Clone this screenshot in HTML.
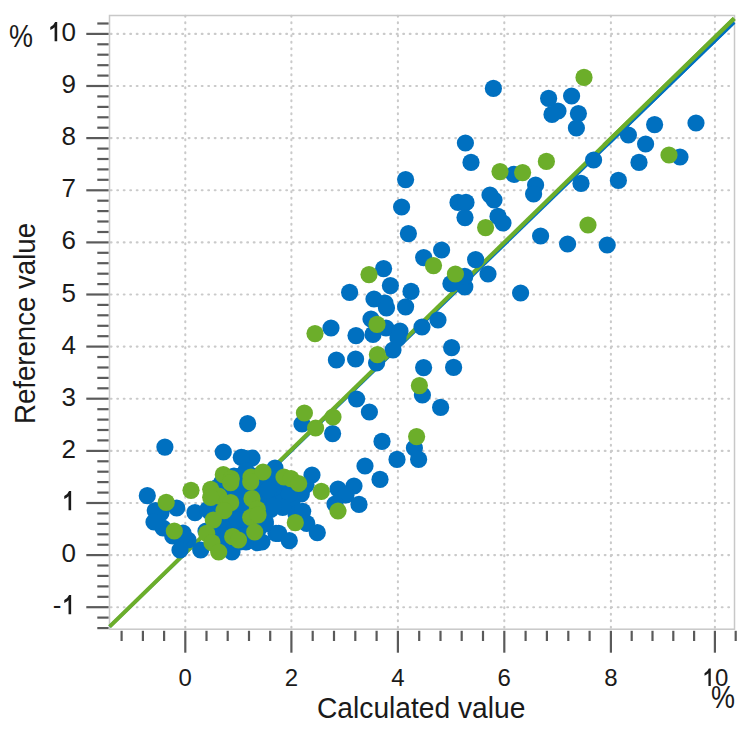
<!DOCTYPE html>
<html><head><meta charset="utf-8"><style>
html,body{margin:0;padding:0;background:#fff;}
body{width:750px;height:750px;position:relative;overflow:hidden;font-family:"Liberation Sans",sans-serif;color:#1a1a1a;}
svg{position:absolute;left:0;top:0;}
.yl{position:absolute;left:0;width:76px;text-align:right;font-size:26px;line-height:30px;}
.xl{position:absolute;top:664px;width:80px;text-align:center;font-size:24px;line-height:28px;}
i{font-style:normal;color:transparent;}
.t{position:absolute;font-size:29px;line-height:34px;white-space:nowrap;}
</style></head><body>
<svg width="750" height="750" viewBox="0 0 750 750"><g stroke="#cacaca" stroke-width="2.1" stroke-linecap="round" stroke-dasharray="0.8 5.7"><line x1="185.3" y1="15.85" x2="185.3" y2="628.2"/><line x1="291.4" y1="15.85" x2="291.4" y2="628.2"/><line x1="397.9" y1="15.85" x2="397.9" y2="628.2"/><line x1="504.3" y1="15.85" x2="504.3" y2="628.2"/><line x1="610.9" y1="15.85" x2="610.9" y2="628.2"/><line x1="714.9" y1="15.85" x2="714.9" y2="628.2"/><line x1="110.75" y1="607.2" x2="733.5" y2="607.2"/><line x1="110.75" y1="555.1" x2="733.5" y2="555.1"/><line x1="110.75" y1="503.0" x2="733.5" y2="503.0"/><line x1="110.75" y1="450.9" x2="733.5" y2="450.9"/><line x1="110.75" y1="398.7" x2="733.5" y2="398.7"/><line x1="110.75" y1="346.6" x2="733.5" y2="346.6"/><line x1="110.75" y1="294.5" x2="733.5" y2="294.5"/><line x1="110.75" y1="242.4" x2="733.5" y2="242.4"/><line x1="110.75" y1="190.3" x2="733.5" y2="190.3"/><line x1="110.75" y1="138.1" x2="733.5" y2="138.1"/><line x1="110.75" y1="86.0" x2="733.5" y2="86.0"/><line x1="110.75" y1="33.9" x2="733.5" y2="33.9"/></g><rect x="109.5" y="15.5" width="625.0" height="613.7" fill="none" stroke="#c8c8c8" stroke-width="1.5"/><g stroke="#5a5a5a" stroke-width="2.2"><line x1="121.6" y1="630.8" x2="121.6" y2="641"/><line x1="142.9" y1="630.8" x2="142.9" y2="641"/><line x1="164.1" y1="630.8" x2="164.1" y2="641"/><line x1="185.3" y1="630.8" x2="185.3" y2="652.7"/><line x1="206.5" y1="630.8" x2="206.5" y2="641"/><line x1="227.7" y1="630.8" x2="227.7" y2="641"/><line x1="249.0" y1="630.8" x2="249.0" y2="641"/><line x1="270.2" y1="630.8" x2="270.2" y2="641"/><line x1="291.4" y1="630.8" x2="291.4" y2="652.7"/><line x1="312.7" y1="630.8" x2="312.7" y2="641"/><line x1="334.0" y1="630.8" x2="334.0" y2="641"/><line x1="355.3" y1="630.8" x2="355.3" y2="641"/><line x1="376.6" y1="630.8" x2="376.6" y2="641"/><line x1="397.9" y1="630.8" x2="397.9" y2="652.7"/><line x1="419.2" y1="630.8" x2="419.2" y2="641"/><line x1="440.5" y1="630.8" x2="440.5" y2="641"/><line x1="461.7" y1="630.8" x2="461.7" y2="641"/><line x1="483.0" y1="630.8" x2="483.0" y2="641"/><line x1="504.3" y1="630.8" x2="504.3" y2="652.7"/><line x1="525.6" y1="630.8" x2="525.6" y2="641"/><line x1="546.9" y1="630.8" x2="546.9" y2="641"/><line x1="568.3" y1="630.8" x2="568.3" y2="641"/><line x1="589.6" y1="630.8" x2="589.6" y2="641"/><line x1="610.9" y1="630.8" x2="610.9" y2="652.7"/><line x1="631.7" y1="630.8" x2="631.7" y2="641"/><line x1="652.5" y1="630.8" x2="652.5" y2="641"/><line x1="673.3" y1="630.8" x2="673.3" y2="641"/><line x1="694.1" y1="630.8" x2="694.1" y2="641"/><line x1="714.9" y1="630.8" x2="714.9" y2="652.7"/><line x1="735.7" y1="630.8" x2="735.7" y2="641"/><line x1="97.3" y1="628.1" x2="108.6" y2="628.1"/><line x1="97.3" y1="617.6" x2="108.6" y2="617.6"/><line x1="86.3" y1="607.2" x2="108.6" y2="607.2"/><line x1="97.3" y1="596.8" x2="108.6" y2="596.8"/><line x1="97.3" y1="586.4" x2="108.6" y2="586.4"/><line x1="97.3" y1="575.9" x2="108.6" y2="575.9"/><line x1="97.3" y1="565.5" x2="108.6" y2="565.5"/><line x1="86.3" y1="555.1" x2="108.6" y2="555.1"/><line x1="97.3" y1="544.7" x2="108.6" y2="544.7"/><line x1="97.3" y1="534.3" x2="108.6" y2="534.3"/><line x1="97.3" y1="523.8" x2="108.6" y2="523.8"/><line x1="97.3" y1="513.4" x2="108.6" y2="513.4"/><line x1="86.3" y1="503.0" x2="108.6" y2="503.0"/><line x1="97.3" y1="492.6" x2="108.6" y2="492.6"/><line x1="97.3" y1="482.1" x2="108.6" y2="482.1"/><line x1="97.3" y1="471.7" x2="108.6" y2="471.7"/><line x1="97.3" y1="461.3" x2="108.6" y2="461.3"/><line x1="86.3" y1="450.9" x2="108.6" y2="450.9"/><line x1="97.3" y1="440.4" x2="108.6" y2="440.4"/><line x1="97.3" y1="430.0" x2="108.6" y2="430.0"/><line x1="97.3" y1="419.6" x2="108.6" y2="419.6"/><line x1="97.3" y1="409.2" x2="108.6" y2="409.2"/><line x1="86.3" y1="398.7" x2="108.6" y2="398.7"/><line x1="97.3" y1="388.3" x2="108.6" y2="388.3"/><line x1="97.3" y1="377.9" x2="108.6" y2="377.9"/><line x1="97.3" y1="367.5" x2="108.6" y2="367.5"/><line x1="97.3" y1="357.0" x2="108.6" y2="357.0"/><line x1="86.3" y1="346.6" x2="108.6" y2="346.6"/><line x1="97.3" y1="336.2" x2="108.6" y2="336.2"/><line x1="97.3" y1="325.8" x2="108.6" y2="325.8"/><line x1="97.3" y1="315.3" x2="108.6" y2="315.3"/><line x1="97.3" y1="304.9" x2="108.6" y2="304.9"/><line x1="86.3" y1="294.5" x2="108.6" y2="294.5"/><line x1="97.3" y1="284.1" x2="108.6" y2="284.1"/><line x1="97.3" y1="273.7" x2="108.6" y2="273.7"/><line x1="97.3" y1="263.2" x2="108.6" y2="263.2"/><line x1="97.3" y1="252.8" x2="108.6" y2="252.8"/><line x1="86.3" y1="242.4" x2="108.6" y2="242.4"/><line x1="97.3" y1="232.0" x2="108.6" y2="232.0"/><line x1="97.3" y1="221.5" x2="108.6" y2="221.5"/><line x1="97.3" y1="211.1" x2="108.6" y2="211.1"/><line x1="97.3" y1="200.7" x2="108.6" y2="200.7"/><line x1="86.3" y1="190.3" x2="108.6" y2="190.3"/><line x1="97.3" y1="179.8" x2="108.6" y2="179.8"/><line x1="97.3" y1="169.4" x2="108.6" y2="169.4"/><line x1="97.3" y1="159.0" x2="108.6" y2="159.0"/><line x1="97.3" y1="148.6" x2="108.6" y2="148.6"/><line x1="86.3" y1="138.1" x2="108.6" y2="138.1"/><line x1="97.3" y1="127.7" x2="108.6" y2="127.7"/><line x1="97.3" y1="117.3" x2="108.6" y2="117.3"/><line x1="97.3" y1="106.9" x2="108.6" y2="106.9"/><line x1="97.3" y1="96.4" x2="108.6" y2="96.4"/><line x1="86.3" y1="86.0" x2="108.6" y2="86.0"/><line x1="97.3" y1="75.6" x2="108.6" y2="75.6"/><line x1="97.3" y1="65.2" x2="108.6" y2="65.2"/><line x1="97.3" y1="54.7" x2="108.6" y2="54.7"/><line x1="97.3" y1="44.3" x2="108.6" y2="44.3"/><line x1="86.3" y1="33.9" x2="108.6" y2="33.9"/><line x1="97.3" y1="23.5" x2="108.6" y2="23.5"/></g><line x1="109.6" y1="626.62" x2="734.2" y2="22.28" stroke="#0070c0" stroke-width="3.2"/><line x1="109.6" y1="626.62" x2="734.2" y2="18.58" stroke="#6cae2a" stroke-width="4.1"/><circle cx="234" cy="476" r="8.6" fill="#0070c0"/><circle cx="240" cy="476" r="8.6" fill="#0070c0"/><circle cx="246" cy="476" r="8.6" fill="#0070c0"/><circle cx="252" cy="476" r="8.6" fill="#0070c0"/><circle cx="258" cy="476" r="8.6" fill="#0070c0"/><circle cx="264" cy="476" r="8.6" fill="#0070c0"/><circle cx="270" cy="476" r="8.6" fill="#0070c0"/><circle cx="276" cy="476" r="8.6" fill="#0070c0"/><circle cx="222" cy="482" r="8.6" fill="#0070c0"/><circle cx="228" cy="482" r="8.6" fill="#0070c0"/><circle cx="234" cy="482" r="8.6" fill="#0070c0"/><circle cx="240" cy="482" r="8.6" fill="#0070c0"/><circle cx="246" cy="482" r="8.6" fill="#0070c0"/><circle cx="252" cy="482" r="8.6" fill="#0070c0"/><circle cx="258" cy="482" r="8.6" fill="#0070c0"/><circle cx="264" cy="482" r="8.6" fill="#0070c0"/><circle cx="270" cy="482" r="8.6" fill="#0070c0"/><circle cx="276" cy="482" r="8.6" fill="#0070c0"/><circle cx="282" cy="482" r="8.6" fill="#0070c0"/><circle cx="288" cy="482" r="8.6" fill="#0070c0"/><circle cx="216" cy="488" r="8.6" fill="#0070c0"/><circle cx="222" cy="488" r="8.6" fill="#0070c0"/><circle cx="228" cy="488" r="8.6" fill="#0070c0"/><circle cx="234" cy="488" r="8.6" fill="#0070c0"/><circle cx="240" cy="488" r="8.6" fill="#0070c0"/><circle cx="246" cy="488" r="8.6" fill="#0070c0"/><circle cx="252" cy="488" r="8.6" fill="#0070c0"/><circle cx="258" cy="488" r="8.6" fill="#0070c0"/><circle cx="264" cy="488" r="8.6" fill="#0070c0"/><circle cx="270" cy="488" r="8.6" fill="#0070c0"/><circle cx="276" cy="488" r="8.6" fill="#0070c0"/><circle cx="282" cy="488" r="8.6" fill="#0070c0"/><circle cx="288" cy="488" r="8.6" fill="#0070c0"/><circle cx="216" cy="494" r="8.6" fill="#0070c0"/><circle cx="222" cy="494" r="8.6" fill="#0070c0"/><circle cx="228" cy="494" r="8.6" fill="#0070c0"/><circle cx="234" cy="494" r="8.6" fill="#0070c0"/><circle cx="240" cy="494" r="8.6" fill="#0070c0"/><circle cx="246" cy="494" r="8.6" fill="#0070c0"/><circle cx="252" cy="494" r="8.6" fill="#0070c0"/><circle cx="258" cy="494" r="8.6" fill="#0070c0"/><circle cx="264" cy="494" r="8.6" fill="#0070c0"/><circle cx="270" cy="494" r="8.6" fill="#0070c0"/><circle cx="276" cy="494" r="8.6" fill="#0070c0"/><circle cx="216" cy="500" r="8.6" fill="#0070c0"/><circle cx="222" cy="500" r="8.6" fill="#0070c0"/><circle cx="228" cy="500" r="8.6" fill="#0070c0"/><circle cx="234" cy="500" r="8.6" fill="#0070c0"/><circle cx="240" cy="500" r="8.6" fill="#0070c0"/><circle cx="246" cy="500" r="8.6" fill="#0070c0"/><circle cx="252" cy="500" r="8.6" fill="#0070c0"/><circle cx="258" cy="500" r="8.6" fill="#0070c0"/><circle cx="264" cy="500" r="8.6" fill="#0070c0"/><circle cx="270" cy="500" r="8.6" fill="#0070c0"/><circle cx="276" cy="500" r="8.6" fill="#0070c0"/><circle cx="216" cy="506" r="8.6" fill="#0070c0"/><circle cx="222" cy="506" r="8.6" fill="#0070c0"/><circle cx="228" cy="506" r="8.6" fill="#0070c0"/><circle cx="234" cy="506" r="8.6" fill="#0070c0"/><circle cx="240" cy="506" r="8.6" fill="#0070c0"/><circle cx="246" cy="506" r="8.6" fill="#0070c0"/><circle cx="252" cy="506" r="8.6" fill="#0070c0"/><circle cx="258" cy="506" r="8.6" fill="#0070c0"/><circle cx="264" cy="506" r="8.6" fill="#0070c0"/><circle cx="270" cy="506" r="8.6" fill="#0070c0"/><circle cx="210" cy="512" r="8.6" fill="#0070c0"/><circle cx="216" cy="512" r="8.6" fill="#0070c0"/><circle cx="222" cy="512" r="8.6" fill="#0070c0"/><circle cx="228" cy="512" r="8.6" fill="#0070c0"/><circle cx="234" cy="512" r="8.6" fill="#0070c0"/><circle cx="240" cy="512" r="8.6" fill="#0070c0"/><circle cx="246" cy="512" r="8.6" fill="#0070c0"/><circle cx="252" cy="512" r="8.6" fill="#0070c0"/><circle cx="258" cy="512" r="8.6" fill="#0070c0"/><circle cx="264" cy="512" r="8.6" fill="#0070c0"/><circle cx="216" cy="518" r="8.6" fill="#0070c0"/><circle cx="222" cy="518" r="8.6" fill="#0070c0"/><circle cx="228" cy="518" r="8.6" fill="#0070c0"/><circle cx="234" cy="518" r="8.6" fill="#0070c0"/><circle cx="240" cy="518" r="8.6" fill="#0070c0"/><circle cx="246" cy="518" r="8.6" fill="#0070c0"/><circle cx="252" cy="518" r="8.6" fill="#0070c0"/><circle cx="258" cy="518" r="8.6" fill="#0070c0"/><circle cx="264" cy="518" r="8.6" fill="#0070c0"/><circle cx="216" cy="524" r="8.6" fill="#0070c0"/><circle cx="222" cy="524" r="8.6" fill="#0070c0"/><circle cx="228" cy="524" r="8.6" fill="#0070c0"/><circle cx="234" cy="524" r="8.6" fill="#0070c0"/><circle cx="240" cy="524" r="8.6" fill="#0070c0"/><circle cx="246" cy="524" r="8.6" fill="#0070c0"/><circle cx="252" cy="524" r="8.6" fill="#0070c0"/><circle cx="258" cy="524" r="8.6" fill="#0070c0"/><circle cx="216" cy="530" r="8.6" fill="#0070c0"/><circle cx="222" cy="530" r="8.6" fill="#0070c0"/><circle cx="228" cy="530" r="8.6" fill="#0070c0"/><circle cx="234" cy="530" r="8.6" fill="#0070c0"/><circle cx="240" cy="530" r="8.6" fill="#0070c0"/><circle cx="246" cy="530" r="8.6" fill="#0070c0"/><circle cx="252" cy="530" r="8.6" fill="#0070c0"/><circle cx="258" cy="530" r="8.6" fill="#0070c0"/><circle cx="216" cy="536" r="8.6" fill="#0070c0"/><circle cx="222" cy="536" r="8.6" fill="#0070c0"/><circle cx="228" cy="536" r="8.6" fill="#0070c0"/><circle cx="234" cy="536" r="8.6" fill="#0070c0"/><circle cx="240" cy="536" r="8.6" fill="#0070c0"/><circle cx="246" cy="536" r="8.6" fill="#0070c0"/><circle cx="252" cy="536" r="8.6" fill="#0070c0"/><circle cx="222" cy="542" r="8.6" fill="#0070c0"/><circle cx="228" cy="542" r="8.6" fill="#0070c0"/><circle cx="234" cy="542" r="8.6" fill="#0070c0"/><circle cx="240" cy="542" r="8.6" fill="#0070c0"/><circle cx="246" cy="542" r="8.6" fill="#0070c0"/><circle cx="161" cy="513" r="8.6" fill="#0070c0"/><circle cx="163" cy="528" r="8.6" fill="#0070c0"/><circle cx="183" cy="533" r="8.6" fill="#0070c0"/><circle cx="182" cy="541" r="8.6" fill="#0070c0"/><circle cx="188" cy="540" r="8.6" fill="#0070c0"/><circle cx="571.6" cy="96" r="8.6" fill="#0070c0"/><circle cx="578.4" cy="113.6" r="8.6" fill="#0070c0"/><circle cx="576.4" cy="128" r="8.6" fill="#0070c0"/><circle cx="654.6" cy="124.6" r="8.6" fill="#0070c0"/><circle cx="696" cy="123" r="8.6" fill="#0070c0"/><circle cx="628.4" cy="135" r="8.6" fill="#0070c0"/><circle cx="645.6" cy="144" r="8.6" fill="#0070c0"/><circle cx="680" cy="157" r="8.6" fill="#0070c0"/><circle cx="639" cy="162.4" r="8.6" fill="#0070c0"/><circle cx="593.6" cy="160" r="8.6" fill="#0070c0"/><circle cx="581" cy="183.4" r="8.6" fill="#0070c0"/><circle cx="618.4" cy="180.4" r="8.6" fill="#0070c0"/><circle cx="493.4" cy="88.4" r="8.6" fill="#0070c0"/><circle cx="548.6" cy="98.4" r="8.6" fill="#0070c0"/><circle cx="558" cy="111" r="8.6" fill="#0070c0"/><circle cx="552" cy="114.4" r="8.6" fill="#0070c0"/><circle cx="465.4" cy="143" r="8.6" fill="#0070c0"/><circle cx="471" cy="162.4" r="8.6" fill="#0070c0"/><circle cx="514" cy="174.4" r="8.6" fill="#0070c0"/><circle cx="535.6" cy="185" r="8.6" fill="#0070c0"/><circle cx="533.6" cy="194" r="8.6" fill="#0070c0"/><circle cx="490" cy="195" r="8.6" fill="#0070c0"/><circle cx="494" cy="200" r="8.6" fill="#0070c0"/><circle cx="458" cy="202.4" r="8.6" fill="#0070c0"/><circle cx="466" cy="202.4" r="8.6" fill="#0070c0"/><circle cx="465" cy="217.6" r="8.6" fill="#0070c0"/><circle cx="498" cy="216.4" r="8.6" fill="#0070c0"/><circle cx="503" cy="223" r="8.6" fill="#0070c0"/><circle cx="540.6" cy="236" r="8.6" fill="#0070c0"/><circle cx="567.6" cy="244" r="8.6" fill="#0070c0"/><circle cx="441.6" cy="250" r="8.6" fill="#0070c0"/><circle cx="423.7" cy="257.6" r="8.6" fill="#0070c0"/><circle cx="475.6" cy="259.6" r="8.6" fill="#0070c0"/><circle cx="488" cy="274" r="8.6" fill="#0070c0"/><circle cx="450.9" cy="283.7" r="8.6" fill="#0070c0"/><circle cx="464.8" cy="286.9" r="8.6" fill="#0070c0"/><circle cx="464.8" cy="276.3" r="8.6" fill="#0070c0"/><circle cx="520.6" cy="293" r="8.6" fill="#0070c0"/><circle cx="438" cy="320" r="8.6" fill="#0070c0"/><circle cx="607.2" cy="245" r="8.6" fill="#0070c0"/><circle cx="405.6" cy="179.6" r="8.6" fill="#0070c0"/><circle cx="401.6" cy="207" r="8.6" fill="#0070c0"/><circle cx="408.4" cy="233.6" r="8.6" fill="#0070c0"/><circle cx="383.6" cy="268.6" r="8.6" fill="#0070c0"/><circle cx="390.4" cy="285.6" r="8.6" fill="#0070c0"/><circle cx="349.6" cy="292.4" r="8.6" fill="#0070c0"/><circle cx="411" cy="291.4" r="8.6" fill="#0070c0"/><circle cx="374" cy="299" r="8.6" fill="#0070c0"/><circle cx="385" cy="303" r="8.6" fill="#0070c0"/><circle cx="386.5" cy="308" r="8.6" fill="#0070c0"/><circle cx="405.6" cy="306.8" r="8.6" fill="#0070c0"/><circle cx="331" cy="328" r="8.6" fill="#0070c0"/><circle cx="371" cy="319" r="8.6" fill="#0070c0"/><circle cx="356" cy="335.6" r="8.6" fill="#0070c0"/><circle cx="373" cy="334.4" r="8.6" fill="#0070c0"/><circle cx="386" cy="328" r="8.6" fill="#0070c0"/><circle cx="400" cy="331" r="8.6" fill="#0070c0"/><circle cx="398" cy="338" r="8.6" fill="#0070c0"/><circle cx="393" cy="350" r="8.6" fill="#0070c0"/><circle cx="422" cy="327" r="8.6" fill="#0070c0"/><circle cx="336.4" cy="360" r="8.6" fill="#0070c0"/><circle cx="355.6" cy="359" r="8.6" fill="#0070c0"/><circle cx="376.6" cy="363" r="8.6" fill="#0070c0"/><circle cx="423.6" cy="367.6" r="8.6" fill="#0070c0"/><circle cx="422.4" cy="395" r="8.6" fill="#0070c0"/><circle cx="356.6" cy="399" r="8.6" fill="#0070c0"/><circle cx="369.4" cy="412" r="8.6" fill="#0070c0"/><circle cx="302" cy="424" r="8.6" fill="#0070c0"/><circle cx="451.6" cy="347.6" r="8.6" fill="#0070c0"/><circle cx="453.6" cy="367.4" r="8.6" fill="#0070c0"/><circle cx="440.6" cy="407.4" r="8.6" fill="#0070c0"/><circle cx="414.4" cy="448" r="8.6" fill="#0070c0"/><circle cx="418.6" cy="459.4" r="8.6" fill="#0070c0"/><circle cx="397" cy="459.4" r="8.6" fill="#0070c0"/><circle cx="382" cy="441.4" r="8.6" fill="#0070c0"/><circle cx="380" cy="479.4" r="8.6" fill="#0070c0"/><circle cx="332.6" cy="433.6" r="8.6" fill="#0070c0"/><circle cx="247.6" cy="423.6" r="8.6" fill="#0070c0"/><circle cx="365" cy="466" r="8.6" fill="#0070c0"/><circle cx="244" cy="458" r="8.6" fill="#0070c0"/><circle cx="252" cy="458" r="8.6" fill="#0070c0"/><circle cx="275" cy="468" r="8.6" fill="#0070c0"/><circle cx="312" cy="475" r="8.6" fill="#0070c0"/><circle cx="338" cy="489" r="8.6" fill="#0070c0"/><circle cx="354" cy="486" r="8.6" fill="#0070c0"/><circle cx="346" cy="495" r="8.6" fill="#0070c0"/><circle cx="335" cy="504" r="8.6" fill="#0070c0"/><circle cx="359" cy="504.4" r="8.6" fill="#0070c0"/><circle cx="164.9" cy="447.1" r="8.6" fill="#0070c0"/><circle cx="147.3" cy="495.7" r="8.6" fill="#0070c0"/><circle cx="155.3" cy="510.7" r="8.6" fill="#0070c0"/><circle cx="176.7" cy="508" r="8.6" fill="#0070c0"/><circle cx="195" cy="512.7" r="8.6" fill="#0070c0"/><circle cx="207.7" cy="509.5" r="8.6" fill="#0070c0"/><circle cx="206" cy="531" r="8.6" fill="#0070c0"/><circle cx="154" cy="522" r="8.6" fill="#0070c0"/><circle cx="172.7" cy="536" r="8.6" fill="#0070c0"/><circle cx="182.7" cy="536" r="8.6" fill="#0070c0"/><circle cx="180" cy="550" r="8.6" fill="#0070c0"/><circle cx="200.7" cy="550" r="8.6" fill="#0070c0"/><circle cx="223.3" cy="452" r="8.6" fill="#0070c0"/><circle cx="241.3" cy="457.3" r="8.6" fill="#0070c0"/><circle cx="246" cy="470.7" r="8.6" fill="#0070c0"/><circle cx="232" cy="552" r="8.6" fill="#0070c0"/><circle cx="257.3" cy="542.7" r="8.6" fill="#0070c0"/><circle cx="276" cy="533.3" r="8.6" fill="#0070c0"/><circle cx="265.3" cy="524" r="8.6" fill="#0070c0"/><circle cx="237.3" cy="520" r="8.6" fill="#0070c0"/><circle cx="242.7" cy="536" r="8.6" fill="#0070c0"/><circle cx="270.7" cy="509.3" r="8.6" fill="#0070c0"/><circle cx="273.3" cy="488" r="8.6" fill="#0070c0"/><circle cx="233.3" cy="490.7" r="8.6" fill="#0070c0"/><circle cx="301.3" cy="494" r="8.6" fill="#0070c0"/><circle cx="306" cy="485" r="8.6" fill="#0070c0"/><circle cx="292" cy="505" r="8.6" fill="#0070c0"/><circle cx="296" cy="514" r="8.6" fill="#0070c0"/><circle cx="289.3" cy="494" r="8.6" fill="#0070c0"/><circle cx="268" cy="490" r="8.6" fill="#0070c0"/><circle cx="282.7" cy="507.3" r="8.6" fill="#0070c0"/><circle cx="302.7" cy="511.3" r="8.6" fill="#0070c0"/><circle cx="273.3" cy="506" r="8.6" fill="#0070c0"/><circle cx="306.7" cy="523.3" r="8.6" fill="#0070c0"/><circle cx="317.3" cy="532.7" r="8.6" fill="#0070c0"/><circle cx="278.7" cy="533.3" r="8.6" fill="#0070c0"/><circle cx="289.3" cy="540.7" r="8.6" fill="#0070c0"/><circle cx="265.3" cy="522" r="8.6" fill="#0070c0"/><circle cx="262" cy="542" r="8.6" fill="#0070c0"/><circle cx="584" cy="77.4" r="8.6" fill="#6cae2a"/><circle cx="669" cy="155" r="8.6" fill="#6cae2a"/><circle cx="500" cy="171.6" r="8.6" fill="#6cae2a"/><circle cx="522.6" cy="172.6" r="8.6" fill="#6cae2a"/><circle cx="546.4" cy="161.4" r="8.6" fill="#6cae2a"/><circle cx="485.6" cy="227.6" r="8.6" fill="#6cae2a"/><circle cx="433.5" cy="265.6" r="8.6" fill="#6cae2a"/><circle cx="455.4" cy="274" r="8.6" fill="#6cae2a"/><circle cx="588" cy="225" r="8.6" fill="#6cae2a"/><circle cx="369" cy="274.6" r="8.6" fill="#6cae2a"/><circle cx="315" cy="333.6" r="8.6" fill="#6cae2a"/><circle cx="377" cy="324.4" r="8.6" fill="#6cae2a"/><circle cx="377.4" cy="354.6" r="8.6" fill="#6cae2a"/><circle cx="419.4" cy="385.6" r="8.6" fill="#6cae2a"/><circle cx="304.4" cy="413" r="8.6" fill="#6cae2a"/><circle cx="333" cy="417" r="8.6" fill="#6cae2a"/><circle cx="315.6" cy="428" r="8.6" fill="#6cae2a"/><circle cx="416.6" cy="436.6" r="8.6" fill="#6cae2a"/><circle cx="251" cy="477" r="8.6" fill="#6cae2a"/><circle cx="263" cy="472" r="8.6" fill="#6cae2a"/><circle cx="284" cy="477" r="8.6" fill="#6cae2a"/><circle cx="291" cy="478.7" r="8.6" fill="#6cae2a"/><circle cx="298.7" cy="483.5" r="8.6" fill="#6cae2a"/><circle cx="321.3" cy="491.4" r="8.6" fill="#6cae2a"/><circle cx="338" cy="511" r="8.6" fill="#6cae2a"/><circle cx="295.3" cy="522.7" r="8.6" fill="#6cae2a"/><circle cx="166.2" cy="502.4" r="8.6" fill="#6cae2a"/><circle cx="191" cy="490.3" r="8.6" fill="#6cae2a"/><circle cx="174.3" cy="531" r="8.6" fill="#6cae2a"/><circle cx="223.3" cy="474.7" r="8.6" fill="#6cae2a"/><circle cx="231.3" cy="478.7" r="8.6" fill="#6cae2a"/><circle cx="210.7" cy="489.3" r="8.6" fill="#6cae2a"/><circle cx="218.7" cy="496" r="8.6" fill="#6cae2a"/><circle cx="210.7" cy="497.3" r="8.6" fill="#6cae2a"/><circle cx="230.7" cy="502.7" r="8.6" fill="#6cae2a"/><circle cx="224" cy="510.7" r="8.6" fill="#6cae2a"/><circle cx="252" cy="498.7" r="8.6" fill="#6cae2a"/><circle cx="257.3" cy="509.3" r="8.6" fill="#6cae2a"/><circle cx="250.7" cy="517.3" r="8.6" fill="#6cae2a"/><circle cx="213.3" cy="520" r="8.6" fill="#6cae2a"/><circle cx="206.7" cy="533.3" r="8.6" fill="#6cae2a"/><circle cx="212" cy="542.7" r="8.6" fill="#6cae2a"/><circle cx="218.7" cy="552" r="8.6" fill="#6cae2a"/><circle cx="232.7" cy="536.7" r="8.6" fill="#6cae2a"/><circle cx="238.5" cy="540" r="8.6" fill="#6cae2a"/><circle cx="254.7" cy="532" r="8.6" fill="#6cae2a"/><circle cx="258" cy="515" r="8.6" fill="#6cae2a"/><circle cx="230.7" cy="482.7" r="8.6" fill="#6cae2a"/><circle cx="250.7" cy="482" r="8.6" fill="#6cae2a"/><line x1="608" y1="144.38" x2="734.2" y2="22.28" stroke="#0070c0" stroke-width="3.2"/><line x1="604" y1="145.33" x2="734.2" y2="18.58" stroke="#6cae2a" stroke-width="4.1"/></svg>
<div class="yl" style="top:590.2px">-<i>1</i></div><div class="yl" style="top:538.1px">0</div><div class="yl" style="top:486.0px"><i>1</i></div><div class="yl" style="top:433.9px">2</div><div class="yl" style="top:381.7px">3</div><div class="yl" style="top:329.6px">4</div><div class="yl" style="top:277.5px">5</div><div class="yl" style="top:225.4px">6</div><div class="yl" style="top:173.3px">7</div><div class="yl" style="top:121.1px">8</div><div class="yl" style="top:69.0px">9</div><div class="yl" style="top:16.9px"><i>1</i>0</div><div class="xl" style="left:145.3px">0</div><div class="xl" style="left:251.4px">2</div><div class="xl" style="left:357.9px">4</div><div class="xl" style="left:464.3px">6</div><div class="xl" style="left:570.9px">8</div><div class="xl" style="left:674.9px"><i>1</i>0</div>
<svg width="750" height="750" viewBox="0 0 750 750"><path d="M54.60,41.30L57.20,41.30L57.20,22.10L55.10,22.10Q53.70,25.70 50.30,27.10L50.30,29.90Q53.00,29.00 54.60,27.30ZM68.55,510.30L71.15,510.30L71.15,491.10L69.05,491.10Q67.65,494.70 64.25,496.10L64.25,498.90Q66.95,498.00 68.55,496.30ZM68.55,614.30L71.15,614.30L71.15,595.10L69.05,595.10Q67.65,598.70 64.25,600.10L64.25,602.90Q66.95,602.00 68.55,600.30ZM708.42,686.00L710.78,686.00L710.78,668.60L708.88,668.60Q707.61,671.86 704.52,673.13L704.52,675.67Q706.97,674.85 708.42,673.31Z" fill="#1a1a1a"/></svg>
<div class="t" style="left:9px;top:19px;transform-origin:0 0;transform:scale(0.93,1.05);">%</div>
<div class="t" style="left:711px;top:680px;transform-origin:0 0;transform:scale(0.93,1.05);">%</div>
<div class="t" style="left:317px;top:691px;transform-origin:0 0;transform:scale(0.972,1);">Calculated value</div>
<div class="t" style="left:8px;top:424px;transform-origin:0 0;transform:rotate(-90deg) scale(0.952,1);">Reference value</div>
</body></html>
